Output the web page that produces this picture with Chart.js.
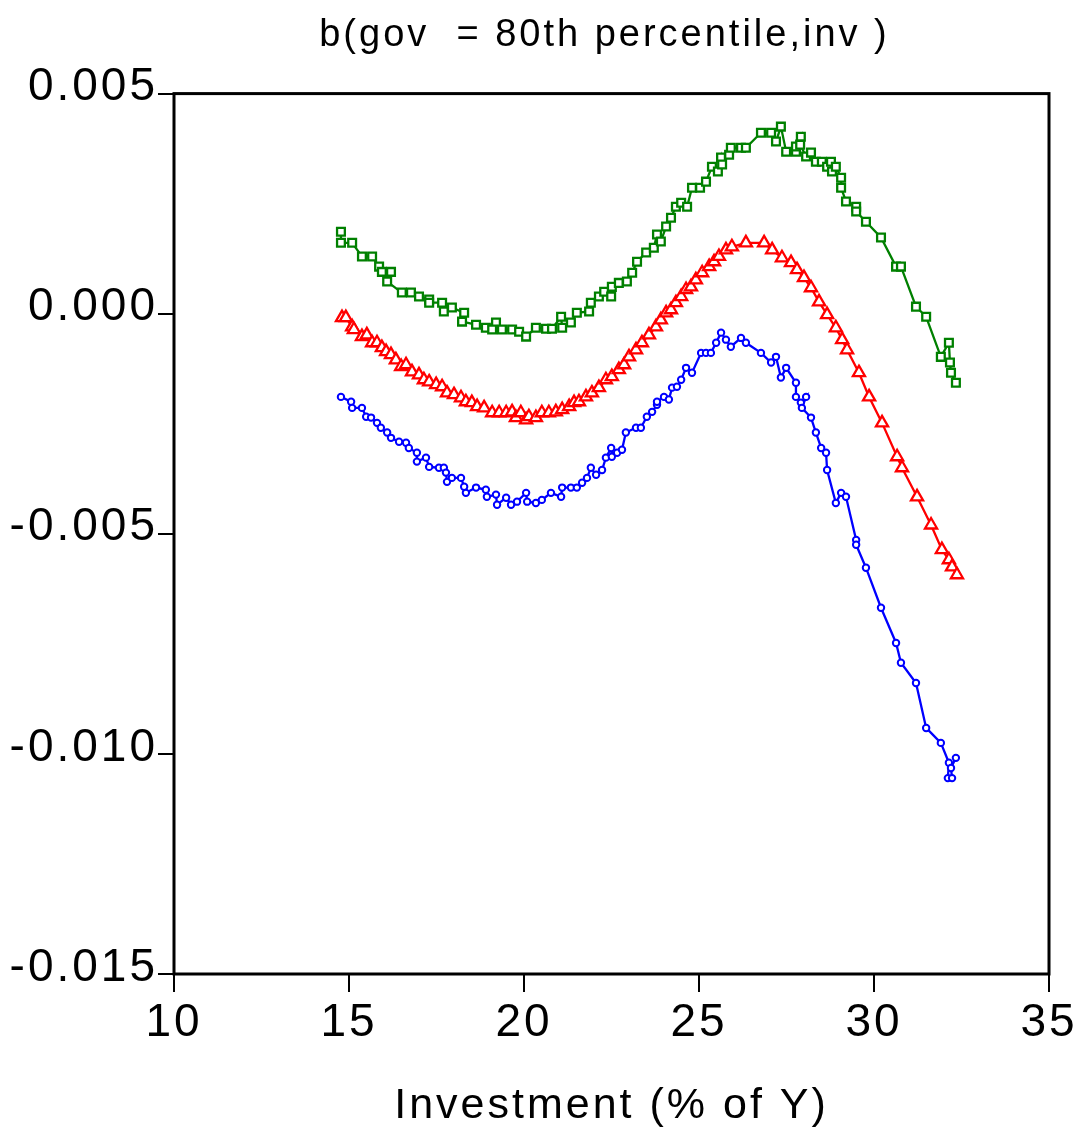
<!DOCTYPE html>
<html>
<head>
<meta charset="utf-8">
<script src="https://cdn.jsdelivr.net/npm/chart.js@4.4.1/dist/chart.umd.min.js"></script>
<style>
  body { margin: 0; background: #fff; }
  canvas { display: block; }
</style>
</head>
<body>
<canvas id="chart" width="1085" height="1134"></canvas>
<script>
// Texts and ticks
const titleText = 'b(gov  = 80th percentile,inv )';
const xTitle = 'Investment (% of Y)';
const xTicks = [10, 15, 20, 25, 30, 35];
const yTicks = [0.005, 0, -0.005, -0.010, -0.015];

// Upper band (green squares)
const greenX = [14.77, 14.77, 15.09, 15.37, 15.66, 15.86, 15.94, 16.20, 16.09, 16.51, 16.77, 17.00, 17.29, 17.29, 17.66, 17.71, 17.94, 18.29, 18.23, 18.63,
  18.91, 19.20, 19.09, 19.37, 19.66, 19.86, 20.06, 20.34, 20.63, 20.80, 21.06, 21.09, 21.34, 21.51, 21.86, 21.91, 22.14, 22.29, 22.49, 22.51,
  22.71, 22.94, 23.09, 23.23, 23.49, 23.71, 23.80, 23.91, 24.06, 24.20, 24.34, 24.49, 24.66, 24.80, 25.03, 25.20, 25.37, 25.54, 25.63, 25.66,
  25.86, 25.91, 26.20, 26.34, 26.77, 27.06, 27.20, 27.34, 27.49, 27.77, 27.77, 27.91, 27.89, 28.06, 28.20, 28.34, 28.51, 28.66, 28.77, 28.80,
  28.91, 29.06, 29.06, 29.20, 29.49, 29.49, 29.77, 30.20, 30.63, 30.77, 31.20, 31.49, 31.91, 32.14, 32.17, 32.20, 32.34];
const greenY = [0.00186, 0.00161, 0.00161, 0.00130, 0.00130, 0.00107, 0.00095, 0.00095, 0.00073, 0.00048, 0.00048, 0.00039, 0.00032, 0.00025, 0.00025, 0.00005, 0.00014, 0.00002, -0.00018, -0.00025,
  -0.00032, -0.00020, -0.00036, -0.00036, -0.00036, -0.00041, -0.00052, -0.00032, -0.00034, -0.00034, -0.00007, -0.00032, -0.00020, 0.00002, 0.00005, 0.00025, 0.00039, 0.00050, 0.00039, 0.00061,
  0.00070, 0.00073, 0.00093, 0.00118, 0.00139, 0.00150, 0.00180, 0.00164, 0.00198, 0.00218, 0.00243, 0.00252, 0.00243, 0.00286, 0.00286, 0.00300, 0.00334, 0.00323, 0.00355, 0.00339,
  0.00361, 0.00377, 0.00377, 0.00377, 0.00411, 0.00411, 0.00391, 0.00425, 0.00368, 0.00368, 0.00380, 0.00402, 0.00384, 0.00357, 0.00366, 0.00345, 0.00345, 0.00334, 0.00345, 0.00323,
  0.00334, 0.00309, 0.00286, 0.00255, 0.00243, 0.00232, 0.00209, 0.00173, 0.00107, 0.00107, 0.00016, -0.00007, -0.00098, -0.00066, -0.00111, -0.00134, -0.00157];

// Middle band (red triangles)
const redX = [14.80, 14.91, 15.09, 15.14, 15.37, 15.51, 15.66, 15.80, 15.94, 16.06, 16.20, 16.34, 16.49, 16.63, 16.80, 17.00, 17.14, 17.29, 17.49, 17.66,
  17.80, 18.00, 18.20, 18.34, 18.51, 18.66, 18.86, 19.09, 19.29, 19.49, 19.66, 19.77, 19.91, 20.06, 20.14, 20.34, 20.51, 20.71, 20.91, 21.09,
  21.29, 21.43, 21.57, 21.77, 21.94, 22.14, 22.34, 22.51, 22.71, 22.86, 23.00, 23.20, 23.37, 23.57, 23.77, 23.91, 24.06, 24.20, 24.34, 24.49,
  24.63, 24.77, 24.91, 25.09, 25.29, 25.43, 25.57, 25.77, 25.94, 26.34, 26.86, 27.09, 27.37, 27.63, 27.80, 28.00, 28.20, 28.43, 28.66, 28.91,
  29.09, 29.23, 29.57, 29.86, 30.23, 30.66, 30.80, 31.23, 31.63, 31.94, 32.14, 32.23, 32.37];
const redY = [-0.00009, -0.00009, -0.00030, -0.00036, -0.00052, -0.00048, -0.00066, -0.00066, -0.00077, -0.00086, -0.00093, -0.00105, -0.00120, -0.00116, -0.00132, -0.00139, -0.00150, -0.00155, -0.00161, -0.00166,
  -0.00180, -0.00184, -0.00191, -0.00200, -0.00202, -0.00211, -0.00214, -0.00225, -0.00225, -0.00225, -0.00223, -0.00236, -0.00225, -0.00241, -0.00234, -0.00236, -0.00225, -0.00225, -0.00223, -0.00218,
  -0.00211, -0.00202, -0.00200, -0.00189, -0.00180, -0.00168, -0.00150, -0.00143, -0.00127, -0.00116, -0.00098, -0.00082, -0.00066, -0.00048, -0.00030, -0.00014, 0.00002, 0.00009, 0.00025, 0.00039,
  0.00055, 0.00061, 0.00077, 0.00093, 0.00107, 0.00118, 0.00130, 0.00145, 0.00152, 0.00161, 0.00161, 0.00145, 0.00127, 0.00116, 0.00100, 0.00082, 0.00059, 0.00027, -0.00002, -0.00032,
  -0.00059, -0.00082, -0.00134, -0.00189, -0.00248, -0.00325, -0.00350, -0.00416, -0.00480, -0.00536, -0.00559, -0.00575, -0.00593];

// Lower band (blue circles)
const blueX = [14.77, 15.06, 15.09, 15.37, 15.49, 15.63, 15.80, 15.91, 16.09, 16.20, 16.43, 16.63, 16.71, 16.94, 16.94, 17.20, 17.29, 17.57, 17.71, 17.77,
  17.80, 17.94, 18.20, 18.29, 18.34, 18.63, 18.91, 18.94, 19.20, 19.23, 19.49, 19.63, 19.80, 20.06, 20.09, 20.34, 20.51, 20.77, 21.06, 21.09,
  21.34, 21.51, 21.66, 21.80, 21.91, 22.06, 22.23, 22.34, 22.49, 22.51, 22.66, 22.80, 22.91, 23.20, 23.34, 23.51, 23.66, 23.80, 23.80, 24.00,
  24.14, 24.23, 24.37, 24.49, 24.63, 24.80, 25.06, 25.20, 25.34, 25.49, 25.63, 25.77, 25.91, 26.20, 26.34, 26.77, 27.06, 27.20, 27.34, 27.49,
  27.77, 27.77, 27.91, 28.06, 27.94, 28.20, 28.34, 28.49, 28.63, 28.66, 28.91, 29.06, 29.20, 29.49, 29.49, 29.77, 30.20, 30.63, 30.77, 31.20,
  31.49, 31.91, 32.14, 32.11, 32.23, 32.20, 32.34];
const blueY = [-0.00189, -0.00200, -0.00214, -0.00214, -0.00234, -0.00236, -0.00248, -0.00259, -0.00270, -0.00282, -0.00291, -0.00293, -0.00305, -0.00316, -0.00336, -0.00327, -0.00348, -0.00350, -0.00350, -0.00361,
  -0.00382, -0.00373, -0.00373, -0.00393, -0.00407, -0.00395, -0.00400, -0.00416, -0.00411, -0.00434, -0.00418, -0.00434, -0.00427, -0.00407, -0.00427, -0.00430, -0.00423, -0.00407, -0.00416, -0.00395,
  -0.00395, -0.00395, -0.00384, -0.00373, -0.00350, -0.00366, -0.00355, -0.00327, -0.00305, -0.00325, -0.00316, -0.00309, -0.00270, -0.00259, -0.00259, -0.00234, -0.00223, -0.00207, -0.00200, -0.00189,
  -0.00195, -0.00168, -0.00166, -0.00150, -0.00123, -0.00134, -0.00089, -0.00089, -0.00089, -0.00066, -0.00043, -0.00059, -0.00075, -0.00055, -0.00066, -0.00089, -0.00111, -0.00098, -0.00145, -0.00123,
  -0.00157, -0.00189, -0.00202, -0.00189, -0.00214, -0.00236, -0.00270, -0.00305, -0.00316, -0.00355, -0.00430, -0.00407, -0.00416, -0.00514, -0.00525, -0.00577, -0.00668, -0.00748, -0.00793, -0.00839,
  -0.00941, -0.00975, -0.01020, -0.01055, -0.01055, -0.01032, -0.01009];

const fontFamily = '"Liberation Sans", Arial, Helvetica, sans-serif';

function toPoints(xs, ys) {
  return xs.map((x, i) => ({ x: x, y: ys[i] }));
}

// wide letter spacing like the original export
const spacing = {
  id: 'spacing',
  beforeUpdate(chart) { chart.ctx.letterSpacing = '3px'; },
  beforeDraw(chart) { chart.ctx.letterSpacing = '3px'; }
};

// centre the title over the plot box rather than the whole canvas
const titleShift = {
  id: 'titleShift',
  afterLayout(chart) {
    if (chart.titleBlock) chart.titleBlock.left = 160;
  }
};

// box round the plot area
const frame = {
  id: 'frame',
  afterDraw(chart) {
    const a = chart.chartArea;
    const ctx = chart.ctx;
    ctx.save();
    ctx.strokeStyle = '#000';
    ctx.lineWidth = 3;
    ctx.strokeRect(a.left, a.top, a.right - a.left, a.bottom - a.top);
    ctx.restore();
  }
};

function series(xs, ys, color, style, radius, bw) {
  return {
    data: toPoints(xs, ys),
    showLine: true,
    borderColor: color,
    borderWidth: 2.3,
    tension: 0,
    pointStyle: style,
    pointRadius: radius,
    pointBorderColor: color,
    pointBackgroundColor: '#fff',
    pointBorderWidth: bw
  };
}

new Chart(document.getElementById('chart').getContext('2d'), {
  type: 'scatter',
  data: {
    datasets: [
      series(blueX, blueY, '#0000ff', 'circle', 3.2, 2),
      series(redX, redY, '#ff0000', 'triangle', 7, 2.3),
      series(greenX, greenY, '#008000', 'rect', 5.5, 2.3)
    ]
  },
  options: {
    responsive: false,
    animation: false,
    events: [],
    layout: { padding: { left: 0, right: 36, top: 0, bottom: 0 } },
    plugins: {
      legend: { display: false },
      tooltip: { enabled: false },
      title: {
        display: true,
        text: titleText,
        color: '#000',
        font: { family: fontFamily, size: 38, weight: 'normal' },
        padding: { top: 13, bottom: 35 }
      }
    },
    scales: {
      x: {
        type: 'linear',
        min: 10,
        max: 35,
        afterBuildTicks(scale) { scale.ticks = xTicks.map(v => ({ value: v })); },
        afterFit(scale) { scale.height = 160; },
        border: { display: false },
        grid: { drawOnChartArea: false, drawTicks: true, tickLength: 18, color: '#000', lineWidth: 2 },
        ticks: { color: '#000', padding: 4, maxRotation: 0, font: { family: fontFamily, size: 46 } },
        title: {
          display: true,
          text: xTitle,
          color: '#000',
          font: { family: fontFamily, size: 43 },
          padding: { top: 0, bottom: 2 }
        }
      },
      y: {
        type: 'linear',
        min: -0.015,
        max: 0.005,
        afterBuildTicks(scale) { scale.ticks = yTicks.map(v => ({ value: v })); },
        afterFit(scale) { scale.width = 174; },
        border: { display: false },
        grid: { drawOnChartArea: false, drawTicks: true, tickLength: 16, color: '#000', lineWidth: 2 },
        ticks: {
          color: '#000',
          padding: 0,
          labelOffset: -6,
          font: { family: fontFamily, size: 46 },
          callback: v => v.toFixed(3)
        }
      }
    }
  },
  plugins: [spacing, titleShift, frame]
});
</script>
</body>
</html>
